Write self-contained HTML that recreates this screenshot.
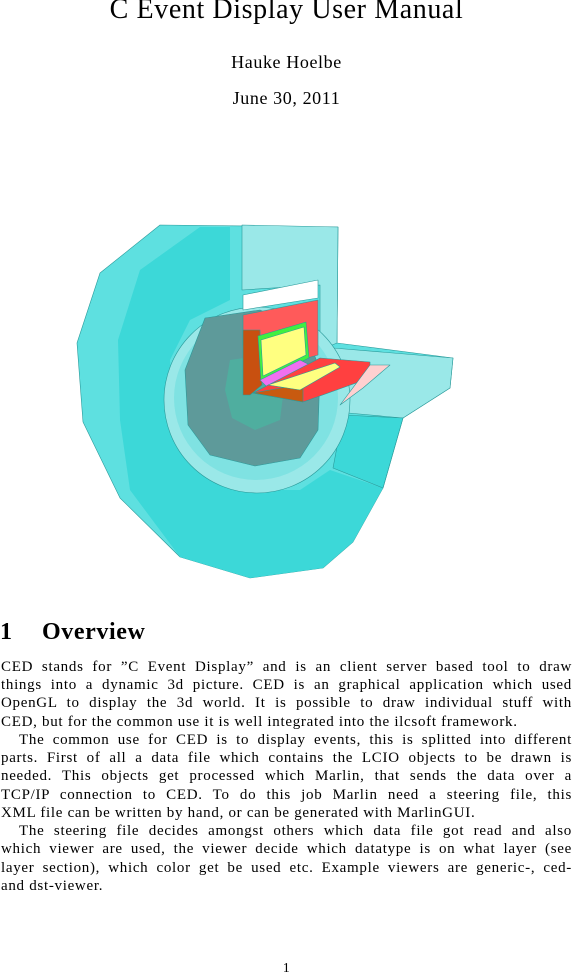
<!DOCTYPE html>
<html><head><meta charset="utf-8">
<style>
html,body{margin:0;padding:0;background:#fff;}
body{width:573px;height:977px;position:relative;overflow:hidden;font-family:"Liberation Serif",serif;color:#000;}
.c{position:absolute;left:0;width:573px;text-align:center;white-space:nowrap;letter-spacing:0.6px;}
.l{position:absolute;left:1px;width:571px;font-size:15px;letter-spacing:0.7px;line-height:18px;white-space:nowrap;text-align:justify;text-align-last:justify;}
.l.e{text-align-last:left;}
.l.i{left:19px;width:553px;}
</style></head><body>
<div class="c" style="top:-6px;font-size:28px;">C Event Display User Manual</div>
<div class="c" style="top:52px;font-size:18px;">Hauke Hoelbe</div>
<div class="c" style="top:88px;font-size:18px;">June 30, 2011</div>

<svg width="573" height="977" style="position:absolute;left:0;top:0" >
<g stroke="#2a9a9a" stroke-width="0.6" stroke-linejoin="round">
<polygon fill="#5ee0e0" points="160,225 338,227 337,343 453,358 450,388 403,418 383,488 353,542 323,568 250,578 180,557 120,498 83,422 77,343 100,273"/>
<polygon fill="#3cd8d8" stroke="none" points="140,270 200,227 230,227 230,300 190,320 170,360 175,420 200,470 245,490 300,490 330,470 383,488 353,542 323,568 250,578 180,557 130,490 120,420 118,340"/>
<polygon fill="#9ae8e8" points="242,225 338,227 337,343 320,350 320,285 242,290"/>
<polygon fill="#9ae8e8" points="333,348 453,358 450,388 403,418 337,412"/>
<polygon fill="#3cd8d8" points="343,415 403,418 383,488 333,468"/>
<circle cx="257" cy="400" r="93" fill="#9ae8e8"/>
<circle cx="256" cy="398" r="82" fill="#7fe2e2" stroke="none"/>
<polygon fill="#5e9a9a" points="205,318 260,310 305,330 320,370 318,430 300,458 255,466 210,455 188,425 185,370"/>
<polygon fill="#4fae9f" stroke="none" points="230,360 265,355 285,380 280,420 255,430 232,418 225,390"/>
<polygon fill="#ffffff" points="243,295 318,280 318,298 243,310"/>
<polygon fill="#ff5a5a" points="243,315 318,300 318,355 300,360 260,340 243,345"/>
<polygon fill="#c85010" points="243,330 260,330 262,385 250,395 243,395"/>
<polygon fill="#40f040" points="258,336 306,322 309,358 261,381"/>
<polygon fill="#ffff80" points="261,340 304,327 306,355 263,376"/>
<polygon fill="#f070f0" points="260,380 300,360 310,365 268,388"/>
<polygon fill="#ff4040" points="253,393 320,358 370,362 370,378 303,402"/>
<polygon fill="#c85a10" points="253,393 303,384 303,402"/>
<polygon fill="#ffff80" points="268,385 335,363 340,367 300,390"/>
<polygon fill="#ffd0d0" points="370,365 390,365 363,388 340,405"/>
</g>
</svg>

<div style="position:absolute;left:0;top:619px;font-size:24px;letter-spacing:0.6px;font-weight:bold;white-space:nowrap;"><span style="display:inline-block;width:42px">1</span>Overview</div>

<div class="l" style="top:658px">CED stands for ”C Event Display” and is an client server based tool to draw</div>
<div class="l" style="top:676px">things into a dynamic 3d picture. CED is an graphical application which used</div>
<div class="l" style="top:694px">OpenGL to display the 3d world. It is possible to draw individual stuff with</div>
<div class="l e" style="top:713px">CED, but for the common use it is well integrated into the ilcsoft framework.</div>
<div class="l i" style="top:731px">The common use for CED is to display events, this is splitted into different</div>
<div class="l" style="top:749px">parts. First of all a data file which contains the LCIO objects to be drawn is</div>
<div class="l" style="top:767px">needed. This objects get processed which Marlin, that sends the data over a</div>
<div class="l" style="top:786px">TCP/IP connection to CED. To do this job Marlin need a steering file, this</div>
<div class="l e" style="top:804px">XML file can be written by hand, or can be generated with MarlinGUI.</div>
<div class="l i" style="top:822px">The steering file decides amongst others which data file got read and also</div>
<div class="l" style="top:840px">which viewer are used, the viewer decide which datatype is on what layer (see</div>
<div class="l" style="top:859px">layer section), which color get be used etc. Example viewers are generic-, ced-</div>
<div class="l e" style="top:877px">and dst-viewer.</div>

<div class="c" style="top:961px;font-size:14px;">1</div>
</body></html>
